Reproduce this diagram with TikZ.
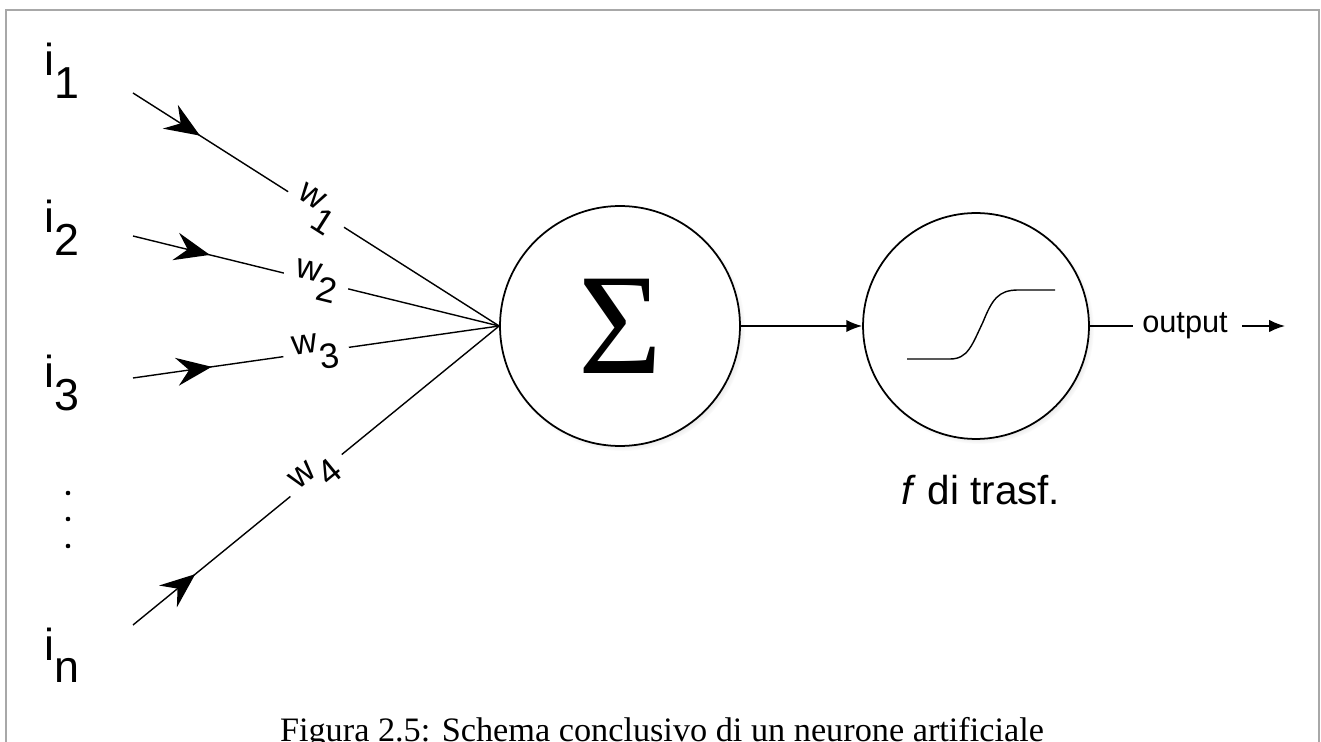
\documentclass[tikz,border=0pt]{standalone}
\usepackage{fontspec}
\setmainfont{Liberation Sans}
\newfontfamily\capserif{Liberation Serif}
\usetikzlibrary{arrows.meta,decorations.markings,shadows}

\newcommand{\inlab}[1]{i\raisebox{-13pt}{#1}}
\newcommand{\wlab}[1]{w\raisebox{-10pt}{#1}}

\tikzset{
	neuron/.style={circle, draw, line width=1pt, fill=white, inner sep=0pt,
		circular drop shadow={shadow xshift=1.5pt, shadow yshift=-1.5pt, shadow scale=1.02, opacity=0.45}},
	inlabel/.style={anchor=base west, inner sep=0pt, font=\fontsize{25.5}{30}\selectfont},
	weight/.style={sloped, pos=0.5, fill=white, inner xsep=6pt, inner ysep=1pt, font=\fontsize{20}{24}\selectfont},
	inarrow/.style={line width=0.8pt, postaction={decorate},
		decoration={markings, mark=at position #1 with {\arrow{Stealth[length=20pt,width=16pt,inset=7pt]}}}},
	flow/.style={line width=0.9pt, -{Latex[length=9pt,width=7pt]}}
}

\begin{document}
\begin{tikzpicture}[x=0.02cm, y=-0.02cm]
			%%%%% START %%%%%
			\useasboundingbox (0,0) rectangle (1321,742);
			\draw[black!34, line width=1.2pt] (6,742) -- (6,10) -- (1319,10) -- (1319,742);
			
			% inputs
			\node[inlabel] (i1) at (44,76) {\inlab{1}};
			\node[inlabel] (i2) at (44,233) {\inlab{2}};
			\node[inlabel] (i3) at (44,388) {\inlab{3}};
			\node[inlabel] (in) at (44,660) {\inlab{n}};
			\foreach \y in {493,519,546}
				\fill (68,\y) circle (1.3pt);
			
			\coordinate (s1) at (133,93);
			\coordinate (s2) at (133,236);
			\coordinate (s3) at (133,378);
			\coordinate (sn) at (133,625);
			
			% sum and transfer function
			\node[neuron, minimum size=4.8cm] (sum) at (620,326) {\capserif\fontsize{82}{82}\selectfont Σ};
			\node[neuron, minimum size=4.52cm] (act) at (976,326) {};
			\draw[line width=0.8pt, shift={(act.center)}] (-69,33) -- (-26,33) .. controls (-8,33) and (-4,19) .. (7,-4) .. controls (16,-26) and (22,-36) .. (42,-36) -- (79,-36);
			\node[anchor=base, inner sep=0pt, font=\fontsize{23}{27}\selectfont] (actlab) at (981,505) {\textit{f} di trasf.};
			
			% weighted connections
			\draw[inarrow=0.183] (s1) -- node[weight] {\wlab{1}} (sum.west);
			\draw[inarrow=0.21] (s2) -- node[weight] {\wlab{2}} (sum.west);
			\draw[inarrow=0.215] (s3) -- node[weight] {\wlab{3}} (sum.west);
			\draw[inarrow=0.17] (sn) -- node[weight] {\wlab{4}} (sum.west);
			
			% output
			\draw[flow] (sum) -- (act);
			\node[inner xsep=5pt, font=\fontsize{17.5}{21}\selectfont] (out) at (1185,326) {output};
			\coordinate (outend) at (1285,326);
			\draw[line width=0.9pt] (act) -- (out);
			\draw[flow, shorten <=3pt] (out) -- (outend);
			
			\node[anchor=base, inner sep=0pt, font=\capserif\fontsize{19.5}{23}\selectfont] (caption) at (662,741) {Figura 2.5: Schema conclusivo di un neurone artificiale};
			%%%%% END %%%%%
\end{tikzpicture}
\end{document}
